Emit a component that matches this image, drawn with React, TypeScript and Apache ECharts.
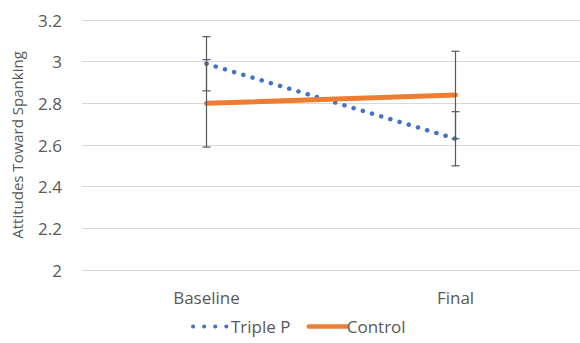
import React, { useEffect, useRef } from "react";
import * as echarts from "echarts";

const categories = ["Baseline", "Final"];
const tripleP = [2.99, 2.63];
const tripleErr = [0.13, 0.13];
const control = [2.8, 2.84];
const controlErr = [0.21, 0.21];
const yTicks = { min: 2, max: 3.2, interval: 0.2 };

export default function App() {
  const ref = useRef<HTMLDivElement>(null);
  useEffect(() => {
    document.body.style.margin = "0";
    const chart = echarts.init(ref.current!, null, { renderer: "svg" });
    const errData: number[][] = [];
    categories.forEach((_, i) => {
      errData.push([i, tripleP[i] - tripleErr[i], tripleP[i] + tripleErr[i]]);
      errData.push([i, control[i] - controlErr[i], control[i] + controlErr[i]]);
    });
    const font = "'Open Sans', sans-serif";
    chart.setOption({
      animation: false,
      grid: { left: 82, top: 20, width: 500, height: 250 },
      legend: {
        bottom: 3,
        left: 186,
        itemGap: 16,
        itemWidth: 38,
        itemHeight: 12,
        itemStyle: { opacity: 0 },
        textStyle: { color: "#595959", fontSize: 17, fontFamily: font, padding: [0, 0, 0, -5] },
        data: [
          { name: "Triple P", lineStyle: { width: 4, type: [0.1, 11], cap: "round", color: "#4472C4" } },
          { name: "Control", lineStyle: { width: 4.5, color: "#ED7D31", cap: "round" } },
        ],
      },
      xAxis: {
        type: "category",
        data: categories,
        axisLine: { show: false },
        axisTick: { show: false },
        axisLabel: { color: "#595959", fontSize: 17, fontFamily: font, margin: 19 },
      },
      yAxis: {
        type: "value",
        min: yTicks.min,
        max: yTicks.max,
        interval: yTicks.interval,
        name: "Attitudes Toward Spanking",
        nameLocation: "middle",
        nameGap: 58,
        nameTextStyle: { color: "#595959", fontSize: 15, fontFamily: font },
        axisLabel: {
          color: "#595959",
          fontSize: 17,
          fontFamily: font,
          margin: 20,
          formatter: (v: number) => String(Math.round(v * 10) / 10),
        },
        splitLine: { lineStyle: { color: "#d9d9d9", width: 1 } },
      },
      series: [
        {
          name: "Triple P",
          type: "line",
          data: tripleP,
          symbol: "none",
          z: 3,
          lineStyle: { color: "#4472C4", width: 4.5, type: [0.1, 9.5], cap: "round" },
          itemStyle: { color: "#4472C4" },
        },
        {
          name: "Control",
          type: "line",
          data: control,
          symbol: "none",
          z: 3,
          lineStyle: { color: "#ED7D31", width: 5, cap: "round" },
          itemStyle: { color: "#ED7D31" },
        },
        {
          type: "custom",
          z: 4,
          silent: true,
          data: errData,
          renderItem: (params: any, api: any) => {
            const x = api.value(0);
            const lo = api.coord([x, api.value(1)]);
            const hi = api.coord([x, api.value(2)]);
            const w = 4;
            const style = { stroke: "#595959", lineWidth: 1.2 };
            return {
              type: "group",
              children: [
                { type: "line", shape: { x1: lo[0], y1: lo[1], x2: hi[0], y2: hi[1] }, style },
                { type: "line", shape: { x1: lo[0] - w, y1: lo[1], x2: lo[0] + w, y2: lo[1] }, style },
                { type: "line", shape: { x1: hi[0] - w, y1: hi[1], x2: hi[0] + w, y2: hi[1] }, style },
              ],
            };
          },
        },
      ],
    });
    return () => chart.dispose();
  }, []);
  return <div ref={ref} style={{ width: 580, height: 343 }} />;
}
